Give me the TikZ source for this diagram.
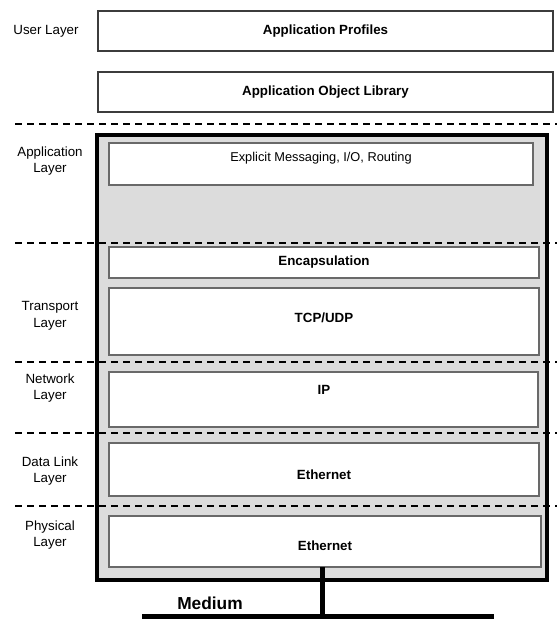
\documentclass[tikz,border=0pt]{standalone}
\usepackage{fontspec}
\setmainfont{Liberation Sans}
\usepackage{tikz}

\definecolor{boxline}{RGB}{60,60,60}
\definecolor{innerline}{RGB}{105,105,105}
\definecolor{stackfill}{RGB}{220,220,220}

\tikzset{
  topbox/.style={draw=boxline,fill=white,line width=0.9pt},
  innerbox/.style={draw=innerline,fill=white,line width=0.8pt},
  stackbox/.style={draw=black,fill=stackfill,line width=2.3pt},
  layersep/.style={draw=black,line width=1.5pt,dash pattern=on 5.5pt off 3.5pt},
  layerlbl/.style={align=center,inner sep=0.75pt,font=\fontsize{10}{12.6}\selectfont},
  boxtxt/.style={inner sep=0.75pt,font=\fontsize{10}{12}\selectfont\bfseries},
  plaintxt/.style={inner sep=0.75pt,font=\fontsize{9.6}{12}\selectfont},
  wire/.style={draw=black,line width=3.75pt}
}

\begin{document}
\begin{tikzpicture}[x=0.75pt,y=0.75pt,yscale=-1,xscale=1]
	\useasboundingbox (0,0) rectangle (557,619);
	
	%Shape: Rectangle [Application Profiles]
	\draw [topbox] (98,11) rectangle (553,51) ;
	%Shape: Rectangle [Application Object Library]
	\draw [topbox] (98,72) rectangle (553,112) ;
	
	%Shape: Rectangle [protocol stack]
	\draw [stackbox] (97,135) rectangle (547,580) ;
	%Shape: Rectangle [Explicit Messaging]
	\draw [innerbox] (109,143) rectangle (533,185) ;
	%Shape: Rectangle [Encapsulation]
	\draw [innerbox] (109,247) rectangle (539,278) ;
	%Shape: Rectangle [TCP/UDP]
	\draw [innerbox] (109,288) rectangle (539,355) ;
	%Shape: Rectangle [IP]
	\draw [innerbox] (109,372) rectangle (538,427) ;
	%Shape: Rectangle [Ethernet, data link]
	\draw [innerbox] (109,443) rectangle (539,496) ;
	%Shape: Rectangle [Ethernet, physical]
	\draw [innerbox] (109,516) rectangle (541,567) ;
	
	%Straight Lines [layer borders]
	\foreach \y in {124,243,362,433,506}
	  \draw [layersep] (15,\y) -- (557,\y) ;
	
	%Straight Lines [medium]
	\coordinate (tap) at (322,567) ;
	\coordinate (mediumleft) at (142,616) ;
	\coordinate (mediumright) at (494,616) ;
	\coordinate (mediumtap) at (322,616) ;
	\draw [wire] (tap) -- (mediumtap) ;
	\draw [wire] (mediumleft) -- (mediumright) ;
	
	% Text Node
	\node [layerlbl] (userlbl) at (46,31) {User Layer};
	% Text Node
	\node [layerlbl] (applbl) at (50,161) {Application\\Layer};
	% Text Node
	\node [layerlbl] (translbl) at (50,316) {Transport\\Layer};
	% Text Node
	\node [layerlbl] (netlbl) at (50,388) {Network\\Layer};
	% Text Node
	\node [layerlbl] (linklbl) at (50,471) {Data Link\\Layer};
	% Text Node
	\node [layerlbl] (physlbl) at (50,535) {Physical\\Layer};
	
	% Text Node
	\node [boxtxt] (profiles) at (325.5,31) {Application Profiles};
	% Text Node
	\node [boxtxt] (objlib) at (325.5,92) {Application Object Library};
	% Text Node
	\node [plaintxt] (explicit) at (321,158) {Explicit Messaging, I/O, Routing};
	% Text Node
	\node [boxtxt] (encap) at (324,262) {Encapsulation};
	% Text Node
	\node [boxtxt] (tcpudp) at (324,318) {TCP/UDP};
	% Text Node
	\node [boxtxt] (ip) at (324,390) {IP};
	% Text Node
	\node [boxtxt] (linkether) at (324,475) {Ethernet};
	% Text Node
	\node [boxtxt] (physether) at (325,546) {Ethernet};
	% Text Node
	\node [inner sep=0.75pt,font=\fontsize{13}{15}\selectfont\bfseries] (medium) at (210,603) {Medium};
	
\end{tikzpicture}
\end{document}
